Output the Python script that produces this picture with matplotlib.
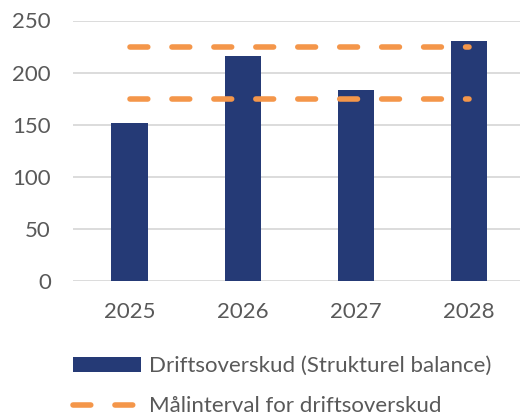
import matplotlib
matplotlib.use("Agg")
import matplotlib.pyplot as plt
from matplotlib.patches import Patch
from matplotlib.lines import Line2D

years = ["2025", "2026", "2027", "2028"]
surplus = [152, 216, 183, 230]
target_low = [175, 175, 175, 175]
target_high = [225, 225, 225, 225]
yticks = [0, 50, 100, 150, 200, 250]

bar_color = "#253A76"
orange = "#F4964A"
text_color = "#595959"
grid_color = "#D9D9D9"

plt.rcParams['font.family'] = ['Lato', 'DejaVu Sans']
fs = 16

W, H = 520, 418
fig = plt.figure(figsize=(W / 100, H / 100), dpi=100)
ax = fig.add_axes([73 / W, 1 - 281 / H, 1 - 73 / W, (281 - 20.5) / H])

x = list(range(len(years)))
ax.bar(x, surplus, width=0.32, color=bar_color, zorder=2)

dash = (0, (3.2, 4.35))
for series in (target_low, target_high):
    ax.plot(x, series, color=orange, lw=4, linestyle=dash,
            dash_capstyle='round', solid_capstyle='round', zorder=3)

ax.set_xlim(-0.5, 3.45)
ax.set_ylim(0, 250)
ax.set_yticks(yticks)
ax.set_xticks(x)
ax.set_xticklabels(years)
ax.yaxis.grid(True, color=grid_color, lw=1.3, zorder=0)
ax.set_axisbelow(True)
for s in ax.spines.values():
    s.set_visible(False)
ax.tick_params(axis='both', length=0, labelsize=fs, colors=text_color)
ax.tick_params(axis='y', pad=16)
ax.tick_params(axis='x', pad=15)

handles = [
    Patch(facecolor=bar_color, edgecolor='none'),
    Line2D([0], [0], color=orange, lw=4, linestyle=dash,
           dash_capstyle='round', solid_capstyle='round'),
]
labels = ["Driftsoverskud (Strukturel balance)", "Målinterval for driftsoverskud"]
fig.legend(handles, labels, loc='upper left',
           bbox_to_anchor=(73 / W, 1 - 356 / H), frameon=False,
           fontsize=fs, labelcolor=text_color, handlelength=3.06,
           handleheight=0.65, handletextpad=0.36, labelspacing=0.92,
           borderpad=0, borderaxespad=0)

fig.savefig("out.png", dpi=100)
